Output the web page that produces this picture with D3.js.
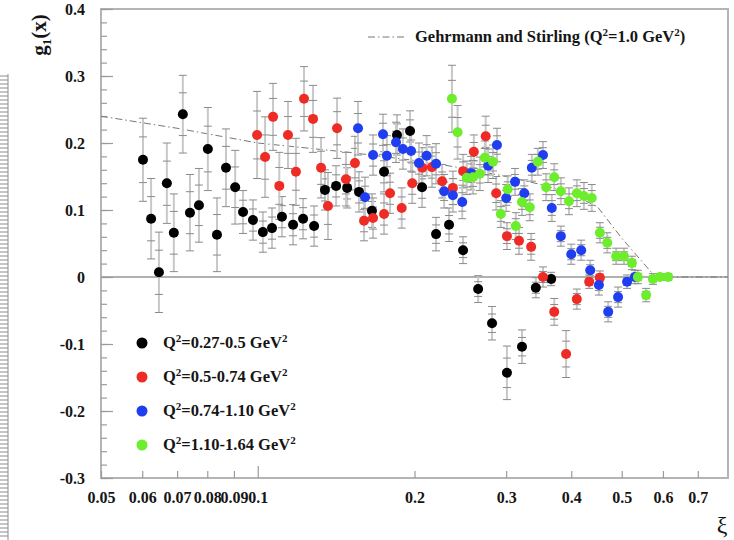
<!DOCTYPE html>
<html>
<head>
<meta charset="utf-8">
<script src="https://cdn.jsdelivr.net/npm/d3@7/dist/d3.min.js"></script>
<style>
body { margin: 0; background: #fff; }
text { font-family: "Liberation Serif", "Times New Roman", serif; font-weight: bold; fill: #151515; }
</style>
</head>
<body>
<script>
// --- data ---
var seriesLabels = ["0.27-0.5", "0.5-0.74", "0.74-1.10", "1.10-1.64"];
var seriesColors = ["#000000", "#ee2b24", "#1f3ef0", "#6cee2c"];

var blackXi  = [0.0602,0.0624,0.0646,0.0669,0.0690,0.0718,0.0741,0.0771,0.0802,0.0835,0.0869,0.0905,0.0937,0.0979,0.1023,0.1065,0.1113,0.1169,0.1222,0.1283,0.1346,0.1414,0.1485,0.1565,0.1657,0.1748,0.1851,0.1961,0.2068,0.2200,0.2330,0.2479,0.265,0.2818,0.301,0.3217,0.342,0.366];
var blackG1  = [0.175,0.087,0.007,0.140,0.066,0.243,0.096,0.107,0.191,0.063,0.163,0.134,0.097,0.085,0.067,0.073,0.090,0.078,0.087,0.076,0.130,0.136,0.133,0.127,0.099,0.157,0.212,0.218,0.134,0.064,0.078,0.040,-0.018,-0.069,-0.143,-0.104,-0.016,-0.003];
var blackErr = [0.062,0.06,0.06,0.06,0.058,0.058,0.057,0.055,0.062,0.055,0.058,0.055,0.032,0.03,0.03,0.03,0.03,0.03,0.03,0.03,0.03,0.03,0.03,0.03,0.025,0.03,0.03,0.03,0.03,0.025,0.025,0.02,0.02,0.025,0.04,0.025,0.015,0.01];

var redXi  = [0.0997,0.1033,0.107,0.110,0.1143,0.1184,0.1227,0.1277,0.1323,0.1364,0.142,0.1477,0.1537,0.160,0.1665,0.1748,0.1795,0.189,0.198,0.207,0.216,0.226,0.237,0.248,0.260,0.274,0.287,0.301,0.3175,0.335,0.353,0.371,0.391,0.410,0.433,0.454];
var redG1  = [0.212,0.179,0.239,0.136,0.212,0.157,0.266,0.236,0.163,0.106,0.222,0.146,0.170,0.084,0.088,0.094,0.125,0.103,0.140,0.163,0.164,0.143,0.133,0.158,0.187,0.210,0.125,0.061,0.054,0.045,0.0,-0.052,-0.115,-0.033,-0.007,-0.001];
var redErr = [0.065,0.06,0.05,0.05,0.05,0.05,0.048,0.05,0.045,0.05,0.045,0.04,0.04,0.03,0.03,0.03,0.03,0.03,0.03,0.03,0.03,0.025,0.025,0.025,0.025,0.03,0.025,0.02,0.02,0.02,0.015,0.02,0.035,0.015,0.01,0.01];

var blueXi  = [0.1558,0.1607,0.1665,0.174,0.177,0.1843,0.190,0.197,0.204,0.211,0.220,0.228,0.237,0.247,0.257,0.277,0.288,0.300,0.312,0.325,0.336,0.353,0.367,0.382,0.400,0.418,0.435,0.452,0.471,0.492,0.512,0.530];
var blueG1  = [0.222,0.119,0.182,0.213,0.181,0.201,0.191,0.188,0.170,0.181,0.169,0.128,0.122,0.112,0.155,0.166,0.197,0.118,0.142,0.125,0.163,0.182,0.103,0.061,0.034,0.040,0.010,-0.012,-0.052,-0.030,-0.007,0.0];
var blueErr = [0.04,0.03,0.03,0.03,0.03,0.03,0.03,0.03,0.03,0.03,0.03,0.025,0.025,0.025,0.025,0.025,0.025,0.02,0.02,0.02,0.02,0.02,0.02,0.015,0.015,0.015,0.015,0.015,0.015,0.015,0.01,0.01];

var greenXi  = [0.236,0.242,0.252,0.259,0.267,0.273,0.283,0.293,0.302,0.313,0.3217,0.333,0.345,0.358,0.371,0.382,0.396,0.410,0.423,0.438,0.454,0.469,0.488,0.505,0.523,0.537,0.557,0.574,0.592,0.614];
var greenG1  = [0.266,0.216,0.148,0.149,0.154,0.178,0.172,0.094,0.131,0.076,0.112,0.104,0.172,0.134,0.149,0.128,0.113,0.125,0.121,0.118,0.066,0.051,0.031,0.031,0.021,0.0,-0.027,-0.003,0.0,0.0];
var greenErr = [0.05,0.04,0.025,0.025,0.025,0.025,0.025,0.02,0.02,0.02,0.02,0.02,0.02,0.02,0.02,0.02,0.02,0.02,0.02,0.02,0.015,0.015,0.012,0.012,0.01,0.01,0.01,0.008,0.005,0.005];

// Gehrmann and Stirling curve (Q^2 = 1.0 GeV^2)
var gsXi = [0.05,0.07,0.1,0.15,0.2,0.25,0.3,0.35,0.4,0.45,0.5,0.55,0.58,0.8];
var gsG1 = [0.240,0.222,0.200,0.186,0.174,0.162,0.150,0.138,0.125,0.104,0.058,0.021,0.0,0.0];

var xTicks = [0.05,0.06,0.07,0.08,0.09,0.1,0.2,0.3,0.4,0.5,0.6,0.7];
var yTicks = [-0.3,-0.2,-0.1,0,0.1,0.2,0.3,0.4];
var yMinor = d3.range(-15, 21).map(function(i) { return i / 50; });

var chartWidth = 734;
var chartHeight = 540;
var margin = {top: 9, right: 6, bottom: 62, left: 101};
var width = chartWidth - margin.left - margin.right;
var height = chartHeight - margin.top - margin.bottom;

var xScale = d3.scaleLog().domain([0.05, 0.8]).range([0, width]);
var yScale = d3.scaleLinear().domain([-0.3, 0.4]).range([height, 0]);

var svg = d3.select("body")
            .append("svg")
            .attr("width", chartWidth)
            .attr("height", chartHeight);

// leftover ruler strip at the page edge
var ruler = svg.append("g").attr("stroke", "#8c8c8c");
ruler.append("line").attr("x1", 8).attr("x2", 8).attr("y1", 74).attr("y2", 540).attr("stroke-width", 1);
ruler.selectAll("line.r")
     .data(d3.range(76, 540, 4))
     .enter().append("line")
     .attr("class", "r")
     .attr("x1", 0).attr("x2", 8)
     .attr("y1", function(d) { return d; })
     .attr("y2", function(d) { return d; })
     .attr("stroke-width", 1);

var chartGroup = svg.append("g")
                    .attr("transform", "translate(" + margin.left + "," + margin.top + ")");

// frame
chartGroup.append("rect")
          .attr("width", width)
          .attr("height", height)
          .attr("fill", "none")
          .attr("stroke", "#b4b4b4")
          .attr("stroke-width", 2);

// zero line
chartGroup.append("line")
          .attr("x1", 0).attr("x2", width)
          .attr("y1", yScale(0)).attr("y2", yScale(0))
          .attr("stroke", "#b0b0b0")
          .attr("stroke-width", 2);

// y axis
chartGroup.append("g")
          .call(d3.axisLeft(yScale)
            .tickValues(yTicks)
            .tickSizeInner(-12)
            .tickSizeOuter(0)
            .tickPadding(16)
            .tickFormat(function(d) { return String(d); }));
chartGroup.append("g")
          .call(d3.axisLeft(yScale)
            .tickValues(yMinor)
            .tickSizeInner(-6)
            .tickSizeOuter(0)
            .tickFormat(""));

// x axis
var xAxis = chartGroup.append("g")
          .attr("transform", "translate(0," + height + ")")
          .call(d3.axisBottom(xScale)
            .tickValues(xTicks)
            .tickSizeInner(-7)
            .tickSizeOuter(0)
            .tickPadding(14)
            .tickFormat(function(d) { return String(d); }));
xAxis.selectAll(".tick line")
     .attr("y2", function(d) { return d === 0.1 ? -12 : -7; });

chartGroup.selectAll(".domain").remove();
chartGroup.selectAll(".tick line").attr("stroke", "#9a9a9a").attr("stroke-width", 1.2);
chartGroup.selectAll(".tick text")
          .style("font-family", "'Liberation Serif', serif")
          .style("font-weight", "bold")
          .style("font-size", "16px")
          .attr("fill", "#1a1a1a");

// Gehrmann-Stirling curve
var gsData = d3.zip(gsXi, gsG1);
chartGroup.append("path")
          .datum(gsData)
          .attr("fill", "none")
          .attr("stroke", "#777")
          .attr("stroke-width", 1)
          .attr("stroke-dasharray", "7,3,1.5,3")
          .attr("d", d3.line()
            .x(function(d) { return xScale(d[0]); })
            .y(function(d) { return yScale(d[1]); }));

// data series
var allSeries = [
  {xi: blackXi, g1: blackG1, err: blackErr, color: seriesColors[0]},
  {xi: redXi,   g1: redG1,   err: redErr,   color: seriesColors[1]},
  {xi: blueXi,  g1: blueG1,  err: blueErr,  color: seriesColors[2]},
  {xi: greenXi, g1: greenG1, err: greenErr, color: seriesColors[3]}
];
allSeries.forEach(function(s) {
  s.points = s.xi.map(function(x, i) { return {x: x, y: s.g1[i], e: s.err[i]}; });
});

var capW = 4;
var capFactors = [1, -1, 0.55, -0.55];
allSeries.forEach(function(s) {
  var eb = chartGroup.append("g");
  eb.selectAll(null)
    .data(s.points)
    .enter().append("line")
    .attr("x1", function(d) { return xScale(d.x); })
    .attr("x2", function(d) { return xScale(d.x); })
    .attr("y1", function(d) { return yScale(d.y + d.e); })
    .attr("y2", function(d) { return yScale(d.y - d.e); })
    .attr("stroke", "#c8c8c8")
    .attr("stroke-width", 2);
  capFactors.forEach(function(f) {
    eb.selectAll(null)
      .data(s.points)
      .enter().append("line")
      .attr("x1", function(d) { return xScale(d.x) - capW; })
      .attr("x2", function(d) { return xScale(d.x) + capW; })
      .attr("y1", function(d) { return yScale(d.y + f * d.e); })
      .attr("y2", function(d) { return yScale(d.y + f * d.e); })
      .attr("stroke", "#8a8a8a")
      .attr("stroke-width", 1);
  });
});

allSeries.forEach(function(s) {
  chartGroup.append("g")
    .selectAll("circle")
    .data(s.points)
    .enter().append("circle")
    .attr("cx", function(d) { return xScale(d.x); })
    .attr("cy", function(d) { return yScale(d.y); })
    .attr("r", 5)
    .attr("fill", s.color);
});

// legend: model curve
var gsLegend = svg.append("g").attr("transform", "translate(368,37)");
gsLegend.append("line")
        .attr("x1", 0).attr("x2", 38)
        .attr("stroke", "#777").attr("stroke-width", 1)
        .attr("stroke-dasharray", "7,3,1.5,3");
var gsText = gsLegend.append("text").attr("x", 47).attr("y", 5).style("font-size", "16.5px");
gsText.append("tspan").text("Gehrmann and Stirling (Q");
gsText.append("tspan").attr("dy", -6).style("font-size", "11px").text("2");
gsText.append("tspan").attr("dy", 6).text("=1.0 GeV");
gsText.append("tspan").attr("dy", -6).style("font-size", "11px").text("2");
gsText.append("tspan").attr("dy", 6).text(")");

// legend: data series
var legend = svg.append("g").attr("transform", "translate(142,343)");
var legendRows = legend.selectAll("g")
      .data(seriesLabels)
      .enter().append("g")
      .attr("transform", function(d, i) { return "translate(0," + (i * 34) + ")"; });
legendRows.append("circle")
          .attr("r", 5.5)
          .attr("fill", function(d, i) { return seriesColors[i]; });
legendRows.each(function(d) {
  var t = d3.select(this).append("text").attr("x", 21).attr("y", 5).style("font-size", "16.5px");
  t.append("tspan").text("Q");
  t.append("tspan").attr("dy", -6).style("font-size", "11px").text("2");
  t.append("tspan").attr("dy", 6).text("=" + d + " GeV");
  t.append("tspan").attr("dy", -6).style("font-size", "11px").text("2");
});

// axis titles
var yTitle = svg.append("text")
   .attr("transform", "translate(46,35) rotate(-90)")
   .attr("text-anchor", "middle")
   .style("font-size", "21px");
yTitle.append("tspan").text("g");
yTitle.append("tspan").attr("dy", 5).style("font-size", "13px").text("1");
yTitle.append("tspan").attr("dy", -5).text("(x)");

svg.append("text")
   .attr("x", 722).attr("y", 533)
   .attr("text-anchor", "middle")
   .style("font-size", "24px")
   .style("font-weight", "normal")
   .text("ξ");
</script>
</body>
</html>
